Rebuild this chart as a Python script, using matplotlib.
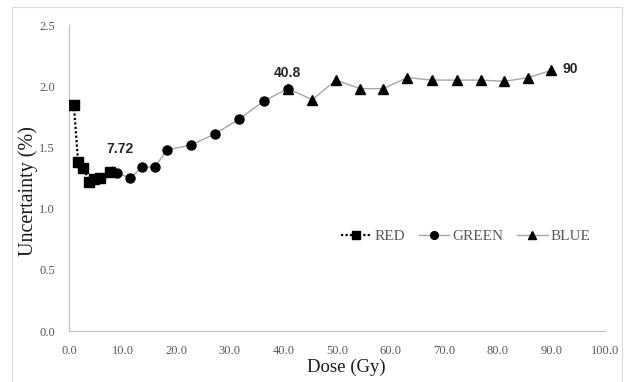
import matplotlib
matplotlib.use("Agg")
import matplotlib.pyplot as plt
from matplotlib.patches import Rectangle

# Dose (Gy) and uncertainty (%) for each colour channel
red_dose = [0.9, 1.7, 2.7, 3.8, 4.7, 5.8, 7.72]
red_unc = [1.85, 1.38, 1.33, 1.22, 1.24, 1.25, 1.30]

green_dose = [7.72, 9.0, 11.4, 13.7, 16.0, 18.3, 22.8, 27.2, 31.7, 36.4, 40.8]
green_unc = [1.30, 1.29, 1.25, 1.34, 1.34, 1.48, 1.52, 1.61, 1.73, 1.88, 1.98]

blue_dose = [40.8, 45.4, 49.8, 54.3, 58.6, 63.1, 67.8, 72.3, 76.8, 81.2, 85.7, 90.0]
blue_unc = [1.98, 1.89, 2.05, 1.98, 1.98, 2.07, 2.05, 2.05, 2.05, 2.04, 2.07, 2.13]

x_ticks = [0, 10, 20, 30, 40, 50, 60, 70, 80, 90, 100]
y_ticks = [0.0, 0.5, 1.0, 1.5, 2.0, 2.5]

serif = ["Liberation Serif", "DejaVu Serif"]
sans = ["Liberation Sans", "DejaVu Sans"]

fig = plt.figure(figsize=(6.24, 3.82), dpi=100)
ax = fig.add_axes([0.1106, 0.1335, 0.859, 0.801])

# thin frame around the whole chart
fig.patches.append(Rectangle((12 / 624, -0.02), 610 / 624, 1.02 - 7 / 382,
                             transform=fig.transFigure, fill=False,
                             edgecolor="#d9d9d9", linewidth=0.8))

ax.plot(blue_dose, blue_unc, color="#a6a6a6", linewidth=1.0, marker="^",
        markersize=6.5, markerfacecolor="black", markeredgecolor="black",
        label="BLUE", zorder=3)
ax.plot(green_dose, green_unc, color="#a6a6a6", linewidth=1.0, marker="o",
        markersize=6.5, markerfacecolor="black", markeredgecolor="black",
        label="GREEN", zorder=4)
ax.plot(red_dose, red_unc, color="black", linewidth=1.6, linestyle=(0, (1, 1)),
        marker="s", markersize=6.5, markerfacecolor="black",
        markeredgecolor="black", label="RED", zorder=5)

# value labels
lab_kw = dict(fontsize=10, fontweight="bold", color="#262626", family=sans)
ax.annotate("7.72", xy=(red_dose[-1], red_unc[-1]), xytext=(9.5, 1.49),
            ha="center", va="center",
            arrowprops=dict(arrowstyle="-", color="#7f7f7f", lw=0.6,
                            shrinkA=6, shrinkB=5), **lab_kw)
ax.text(green_dose[-1], green_unc[-1] + 0.13, "40.8", ha="center", va="center", **lab_kw)
ax.text(blue_dose[-1] + 2.1, blue_unc[-1] + 0.01, "90", ha="left", va="center", **lab_kw)

ax.set_xlim(0, 100)
ax.set_ylim(0, 2.5)
ax.set_xticks(x_ticks)
ax.set_xticklabels([f"{v:.1f}" for v in x_ticks], family=serif, fontsize=9, color="#595959")
ax.set_yticks(y_ticks)
ax.set_yticklabels([f"{v:.1f}" for v in y_ticks], family=serif, fontsize=9, color="#595959")
ax.tick_params(length=0)
ax.tick_params(axis="y", pad=10)
ax.tick_params(axis="x", pad=10)

for side in ("top", "right"):
    ax.spines[side].set_visible(False)
for side in ("left", "bottom"):
    ax.spines[side].set_color("#bfbfbf")
    ax.spines[side].set_linewidth(0.8)

ax.set_xlabel("Dose (Gy)", family=serif, fontsize=13.5, color="#1a1a1a")
ax.set_ylabel("Uncertainty (%)", family=serif, fontsize=14.5, color="#1a1a1a")
ax.xaxis.set_label_coords(0.518, -0.092)
ax.yaxis.set_label_coords(-0.057, 0.457)

handles, labels = ax.get_legend_handles_labels()
leg = ax.legend(handles[::-1], labels[::-1], loc="center", bbox_to_anchor=(0.74, 0.31),
                ncol=3, frameon=False, prop={"family": serif, "size": 11},
                labelcolor="#595959", handlelength=2.0, handletextpad=0.2,
                columnspacing=0.9, markerscale=0.85)

fig.savefig("out.png", dpi=100)
